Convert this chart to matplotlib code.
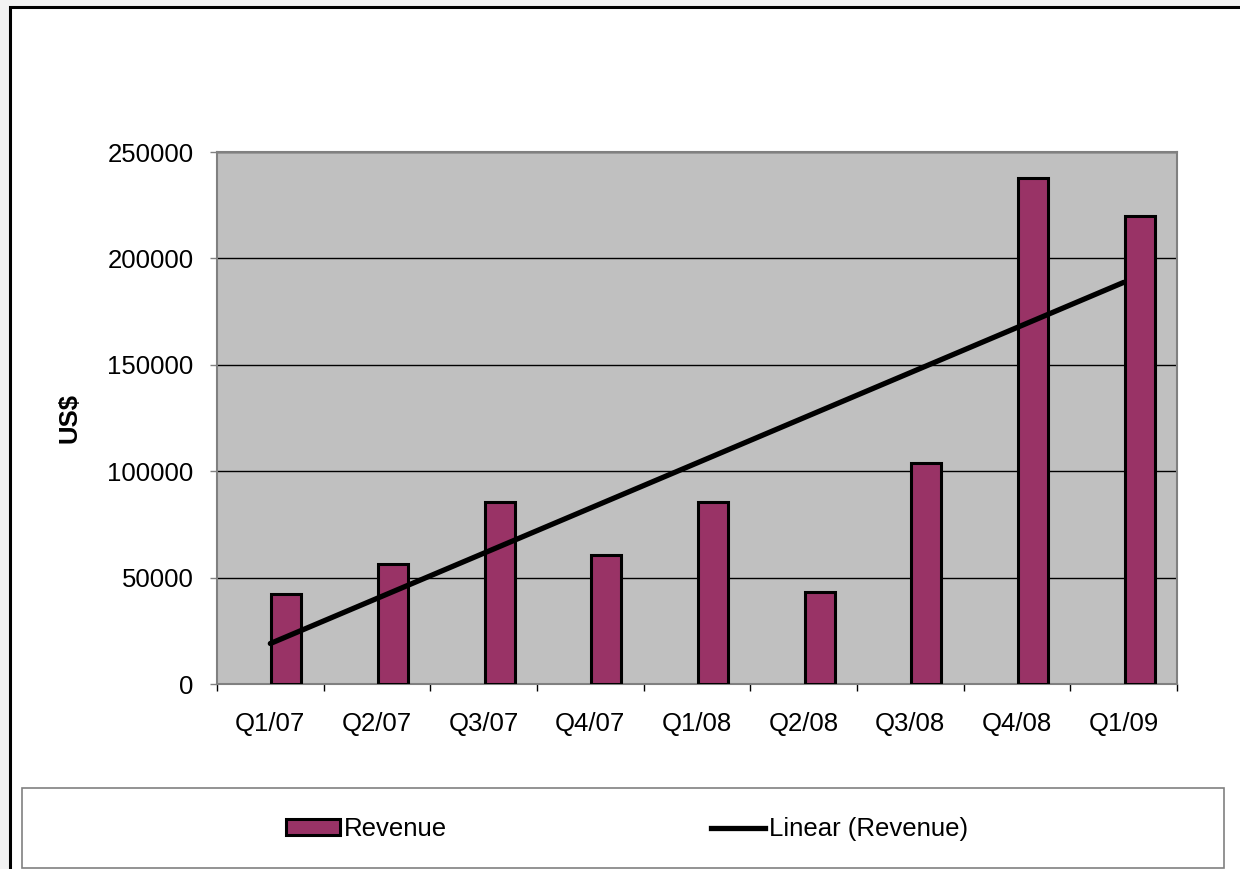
import matplotlib.pyplot as plt
import numpy as np
from matplotlib.patches import Rectangle
from matplotlib.lines import Line2D
from matplotlib.patches import Patch

plt.rcParams['font.family'] = ['Liberation Sans', 'DejaVu Sans']

quarters = ['Q1/07', 'Q2/07', 'Q3/07', 'Q4/07', 'Q1/08', 'Q2/08', 'Q3/08', 'Q4/08', 'Q1/09']
revenue = [42300, 56500, 85700, 60500, 85400, 43100, 103700, 237800, 219900]
y_ticks = [0, 50000, 100000, 150000, 200000, 250000]

bar_color = '#993366'
fs = 18.5

fig = plt.figure(figsize=(12.4, 8.69), dpi=100, facecolor='#f2f2f2')

# chart area box (cropped on the right and bottom)
fig.patches.append(Rectangle((10/1240, -0.05), 1.1, 1 - 7/869 + 0.05, transform=fig.transFigure,
                             facecolor='white', edgecolor='black', linewidth=2.2, zorder=-2))

ax = fig.add_axes([217/1240, 1 - 684/869, 960/1240, 532/869])
ax.set_zorder(2)
ax.set_facecolor('#c0c0c0')
x = np.arange(len(quarters))
# bars sit a little right of the category centre, like in the source chart
ax.bar(x + 0.15, revenue, width=0.28, color=bar_color, edgecolor='black', linewidth=2.2, zorder=3)

# linear trend line
k, b = np.polyfit(x, revenue, 1)
ax.plot(x, k * x + b, color='black', linewidth=3.8, zorder=4, solid_capstyle='round')

ax.set_xlim(-0.5, len(quarters) - 0.5)
ax.set_ylim(0, 250000)
ax.set_yticks(y_ticks)
ax.set_yticklabels([str(v) for v in y_ticks], fontsize=fs)
ax.yaxis.grid(True, color='black', linewidth=1)
ax.set_axisbelow(True)
ax.tick_params(axis='y', length=5, width=1, color='#808080', pad=12)

ax.set_xticks(x)
ax.set_xticklabels(quarters, fontsize=fs)
ax.set_xticks(np.arange(-0.5, len(quarters)), minor=True)
ax.tick_params(axis='x', which='major', length=0, pad=20)
ax.tick_params(axis='x', which='minor', length=5, width=1, color='black')

for s in ax.spines.values():
    s.set_color('#808080')
    s.set_linewidth(1.5)

ax.set_ylabel('US$', fontsize=fs, fontweight='bold', labelpad=0)
ax.yaxis.set_label_coords(-0.141, 0.5)

# legend box
fig.patches.append(Rectangle((22/1240, 1 - 868/869), 1202/1240, 80/869, transform=fig.transFigure,
                             facecolor='white', edgecolor='#808080', linewidth=1.2, zorder=-1))
handles = [Patch(facecolor=bar_color, edgecolor='black', linewidth=2.2),
           Line2D([0], [0], color='black', linewidth=3.8)]
fig.legend(handles, ['Revenue', 'Linear (Revenue)'], loc='center', ncol=2,
           bbox_to_anchor=(627/1240, 1 - 829/869), frameon=False, fontsize=fs,
           handlelength=2.1, handleheight=0.55, handletextpad=0.15, columnspacing=10.3)

fig.savefig('out.png', dpi=100, facecolor=fig.get_facecolor())
